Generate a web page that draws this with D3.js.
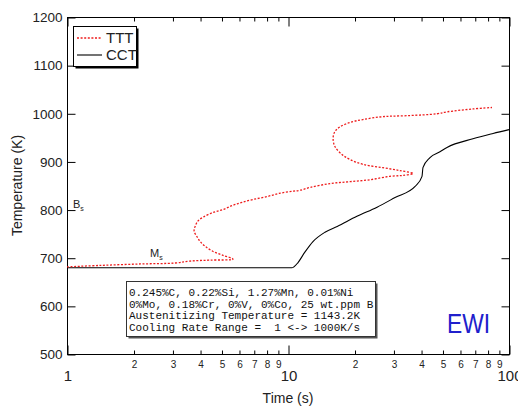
<!DOCTYPE html>
<html>
<head>
<meta charset="utf-8">
<script src="https://cdn.jsdelivr.net/npm/d3@7"></script>
<style>
  body { margin: 0; background: #fff; }
  svg { display: block; }
  .tick text { fill: #222; }
</style>
</head>
<body>
<div id="chart"></div>
<script>
// CCT curve: time (s), temperature (K)
var cct_time = [1, 10.4, 11.1, 11.9, 13.0, 14.7, 16.7, 20.5, 25.3, 30.5, 37.6, 40.4, 40.8, 43.9, 48.7, 52.4, 68.7, 84.7, 100];
var cct_temp = [679, 679, 690, 711, 734, 753, 765, 786, 805, 825, 848, 869, 887, 908, 920, 929, 947, 958, 966];

// TTT curve (red dotted)
var ttt_time = [1, 1.41, 2.14, 3.08, 3.6, 4.44, 5.64, 5.08, 4.58, 4.21, 4.0, 3.87, 3.76, 3.8, 3.91, 4.12, 4.58, 5.08, 5.64, 6.19, 6.95, 8.04, 9.2, 10.5, 11.3, 12.6, 15.5, 19.1, 23.5, 28.9, 33.1, 36.8, 32.1, 26.9, 21.8, 19.1, 17.6, 16.3, 16.0, 16.3, 17.2, 19.1, 21.8, 26.9, 34.5, 47.2, 52.4, 68.7, 83.8];
var ttt_temp = [681, 684, 687, 689, 693, 695, 697, 705, 713, 724, 734, 744, 755, 765, 776, 784, 794, 800, 809, 815, 821, 827, 834, 838, 840, 846, 854, 858, 862, 869, 871, 875, 881, 887, 894, 904, 914, 931, 949, 962, 972, 981, 987, 993, 995, 999, 1003, 1009, 1012];

var major_ticks = [1, 10, 100];
var minor_ticks = [2, 3, 4, 5, 6, 7, 8, 9, 20, 30, 40, 50, 60, 70, 80, 90];
var y_ticks = [500, 600, 700, 800, 900, 1000, 1100, 1200];

var info_lines = [
  '0.245%C, 0.22%Si, 1.27%Mn, 0.01%Ni',
  '0%Mo, 0.18%Cr, 0%V, 0%Co, 25 wt.ppm B',
  'Austenitizing Temperature = 1143.2K',
  'Cooling Rate Range =  1 <-> 1000K/s'
];

var settings = {
  width: 518,
  height: 408,
  left: 67,
  right: 509,
  top: 17,
  bottom: 354,
  font: 'Liberation Sans, Arial, sans-serif',
  ttt_color: '#ee1c1c',
  ewi_color: '#2020cc'
};

var svg = d3.select('#chart').append('svg')
  .attr('width', settings.width)
  .attr('height', settings.height);

var x = d3.scaleLog().domain([1, 100]).range([settings.left, settings.right]);
var y = d3.scaleLinear().domain([500, 1200]).range([settings.bottom, settings.top]);

// frame
svg.append('rect')
  .attr('x', settings.left + 0.5)
  .attr('y', settings.top + 0.5)
  .attr('width', settings.right - settings.left)
  .attr('height', settings.bottom - settings.top)
  .style('fill', 'none')
  .style('stroke', '#000')
  .style('stroke-width', 1);

function clean(g) {
  g.select('.domain').remove();
  g.selectAll('line').style('stroke', '#000');
}

// y axes
svg.append('g')
  .attr('transform', 'translate(' + (settings.left + 0.5) + ',0.5)')
  .call(d3.axisLeft(y).tickValues(y_ticks).tickSize(-8).tickPadding(5).tickFormat(d3.format('d')))
  .call(clean)
  .selectAll('text')
  .style('font-family', settings.font)
  .style('font-size', '13.5px');

svg.append('g')
  .attr('transform', 'translate(' + (settings.right + 0.5) + ',0.5)')
  .call(d3.axisRight(y).tickValues(y_ticks).tickSize(-8).tickFormat(''))
  .call(clean);

// x axes: bottom
svg.append('g')
  .attr('transform', 'translate(0.5,' + (settings.bottom + 0.5) + ')')
  .call(d3.axisBottom(x).tickValues(minor_ticks).tickSize(-4).tickPadding(6)
    .tickFormat(function(d) { return String(d).charAt(0); }))
  .call(clean)
  .selectAll('text')
  .style('font-family', settings.font)
  .style('font-size', '10px');

svg.append('g')
  .attr('transform', 'translate(0.5,' + (settings.bottom + 0.5) + ')')
  .call(d3.axisBottom(x).tickValues(major_ticks).tickSize(-9).tickPadding(16).tickFormat(d3.format('d')))
  .call(clean)
  .selectAll('text')
  .style('font-family', settings.font)
  .style('font-size', '15px');

// x axes: top
svg.append('g')
  .attr('transform', 'translate(0.5,' + (settings.top + 0.5) + ')')
  .call(d3.axisTop(x).tickValues(minor_ticks).tickSize(-4).tickFormat(''))
  .call(clean);

svg.append('g')
  .attr('transform', 'translate(0.5,' + (settings.top + 0.5) + ')')
  .call(d3.axisTop(x).tickValues(major_ticks).tickSize(-9).tickFormat(''))
  .call(clean);

// axis titles
svg.append('text')
  .attr('transform', 'translate(22,' + ((settings.top + settings.bottom) / 2) + ') rotate(-90)')
  .style('text-anchor', 'middle')
  .style('font-family', settings.font)
  .style('font-size', '14px')
  .style('fill', '#222')
  .text('Temperature (K)');

svg.append('text')
  .attr('x', (settings.left + settings.right) / 2)
  .attr('y', 403)
  .style('text-anchor', 'middle')
  .style('font-family', settings.font)
  .style('font-size', '14px')
  .style('fill', '#222')
  .text('Time (s)');

// curves
var cct_line = d3.line()
  .x(function(d) { return x(d[0]); })
  .y(function(d) { return y(d[1]); })
  .curve(d3.curveMonotoneX);

var ttt_line = d3.line()
  .x(function(d) { return x(d[0]); })
  .y(function(d) { return y(d[1]); })
  .curve(d3.curveCatmullRom.alpha(0.5));

svg.append('path')
  .datum(d3.zip(cct_time, cct_temp))
  .attr('d', cct_line)
  .style('fill', 'none')
  .style('stroke', '#000')
  .style('stroke-width', 1.1);

svg.append('path')
  .datum(d3.zip(ttt_time, ttt_temp))
  .attr('d', ttt_line)
  .style('fill', 'none')
  .style('stroke', settings.ttt_color)
  .style('stroke-width', 1.3)
  .style('stroke-dasharray', '2,1.6');

// Bs / Ms labels
function sub_label(px, py, main) {
  var t = svg.append('text')
    .attr('x', px)
    .attr('y', py)
    .style('font-family', settings.font)
    .style('font-size', '11px')
    .style('fill', '#222');
  t.append('tspan').text(main);
  t.append('tspan').attr('dy', 3).style('font-size', '7px').text('s');
}
sub_label(73, 208, 'B');
sub_label(150, 257, 'M');

// legend
var legend = svg.append('g');
legend.append('rect')
  .attr('x', 75.5).attr('y', 28.5).attr('width', 63).attr('height', 40)
  .style('fill', '#000');
legend.append('rect')
  .attr('x', 73.5).attr('y', 26.5).attr('width', 63).attr('height', 40)
  .style('fill', '#fff').style('stroke', '#000');

var legend_items = [
  {label: 'TTT', color: settings.ttt_color, dash: '2,1.6', y: 38},
  {label: 'CCT', color: '#000', dash: null, y: 55}
];
legend_items.forEach(function(d) {
  legend.append('line')
    .attr('x1', 77).attr('x2', 102).attr('y1', d.y).attr('y2', d.y)
    .style('stroke', d.color)
    .style('stroke-width', d.dash ? 1.3 : 1.1)
    .style('stroke-dasharray', d.dash);
  legend.append('text')
    .attr('x', 106).attr('y', d.y + 5)
    .style('font-family', 'Liberation Sans Narrow, Arial Narrow, ' + settings.font)
    .style('font-size', '15px')
    .style('fill', '#222')
    .text(d.label);
});

// info box
var info = svg.append('g');
info.append('rect')
  .attr('x', 128.5).attr('y', 283.5).attr('width', 249).attr('height', 55)
  .style('fill', '#555');
info.append('rect')
  .attr('x', 126.5).attr('y', 281.5).attr('width', 249).attr('height', 55)
  .style('fill', '#fff').style('stroke', '#333');
info.selectAll('text.info')
  .data(info_lines)
  .enter().append('text')
  .attr('class', 'info')
  .attr('x', 129)
  .attr('y', function(d, i) { return 296 + i * 11.6; })
  .style('font-family', 'Liberation Mono, Courier New, monospace')
  .style('font-size', '11px')
  .style('fill', '#111')
  .style('white-space', 'pre')
  .text(function(d) { return d; });

// EWI mark
svg.append('text')
  .attr('x', 447)
  .attr('y', 333)
  .attr('textLength', 43)
  .attr('lengthAdjust', 'spacingAndGlyphs')
  .style('font-family', settings.font)
  .style('font-size', '28px')
  .style('fill', settings.ewi_color)
  .text('EWI');
</script>
</body>
</html>
